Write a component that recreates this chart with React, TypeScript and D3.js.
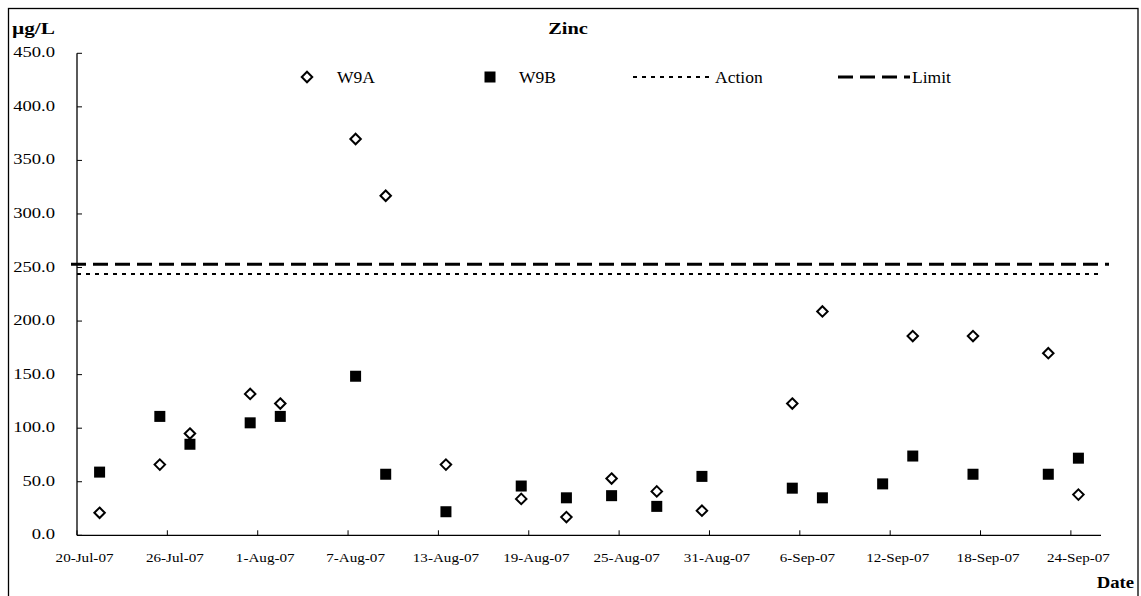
import React from "react";
import * as d3 from "d3";

// ---- data ----
const W9A_DATES = [
  "2007-07-21", "2007-07-25", "2007-07-27", "2007-07-31", "2007-08-02", "2007-08-07",
  "2007-08-09", "2007-08-13", "2007-08-18", "2007-08-21", "2007-08-24", "2007-08-27",
  "2007-08-30", "2007-09-05", "2007-09-07", "2007-09-13", "2007-09-17", "2007-09-22",
  "2007-09-24",
];
const W9A_VALUES = [21, 66, 95, 132, 123, 370, 317, 66, 34, 17, 53, 41, 23, 123, 209, 186, 186, 170, 38];

const W9B_DATES = [
  "2007-07-21", "2007-07-25", "2007-07-27", "2007-07-31", "2007-08-02", "2007-08-07",
  "2007-08-09", "2007-08-13", "2007-08-18", "2007-08-21", "2007-08-24", "2007-08-27",
  "2007-08-30", "2007-09-05", "2007-09-07", "2007-09-11", "2007-09-13", "2007-09-17",
  "2007-09-22", "2007-09-24",
];
const W9B_VALUES = [59, 111, 85, 105, 111, 148.5, 57, 22, 46, 35, 37, 27, 55, 44, 35, 48, 74, 57, 57, 72];

const ACTION_LEVEL = 244;
const LIMIT_LEVEL = 253;

const Y_TICKS = [0, 50, 100, 150, 200, 250, 300, 350, 400, 450];
const X_TICK_DATES = [
  "2007-07-20", "2007-07-26", "2007-08-01", "2007-08-07", "2007-08-13", "2007-08-19",
  "2007-08-25", "2007-08-31", "2007-09-06", "2007-09-12", "2007-09-18", "2007-09-24",
];
const X_TICK_LABELS = [
  "20-Jul-07", "26-Jul-07", "1-Aug-07", "7-Aug-07", "13-Aug-07", "19-Aug-07",
  "25-Aug-07", "31-Aug-07", "6-Sep-07", "12-Sep-07", "18-Sep-07", "24-Sep-07",
];
const X_DOMAIN = ["2007-07-20", "2007-09-26"];

const TITLE = "Zinc";
const Y_TITLE = "\u00b5g/L";
const X_TITLE = "Date";
const LEGEND_LABELS = ["W9A", "W9B", "Action", "Limit"];

const FONT = "'Liberation Serif', 'Times New Roman', serif";

const parse = d3.timeParse("%Y-%m-%d");
const noon = (s: string) => d3.timeHour.offset(parse(s) as Date, 12);

function SText(props: {
  x: number; y: number; sx?: number; size: number; bold?: boolean;
  anchor?: "start" | "middle" | "end"; children: React.ReactNode;
}) {
  const { x, y, sx = 1, size, bold, anchor = "start", children } = props;
  return (
    <text
      transform={`translate(${x},${y}) scale(${sx},1)`}
      fontFamily={FONT}
      fontSize={size}
      fontWeight={bold ? "bold" : "normal"}
      textAnchor={anchor}
      fill="#000"
    >
      {children}
    </text>
  );
}

export default function App() {
  const W = 1141, H = 596;
  const x = d3.scaleTime()
    .domain([parse(X_DOMAIN[0]) as Date, parse(X_DOMAIN[1]) as Date])
    .range([77, 1101]);
  const y = d3.scaleLinear().domain([0, 450]).range([535.3, 53.3]);

  const diamond = d3.symbol().type(d3.symbolDiamond2).size(70)()!;
  const sq = 11;

  const xAxisY = y(0);
  const xLeft = x.range()[0];
  const xRight = x.range()[1];

  return (
    <svg width={W} height={H} style={{ position: "absolute", left: 0, top: 0, background: "#fff" }}>
      <rect x={0} y={0} width={W} height={H} fill="#fff" />
      {/* outer frame */}
      <rect x={8.5} y={8.5} width={1129.5} height={620} fill="none" stroke="#000" strokeWidth={1.3} />

      {/* titles */}
      <SText x={12} y={34} size={17} bold sx={1.25}>{Y_TITLE}</SText>
      <SText x={568} y={34} size={17} bold anchor="middle" sx={1.2}>{TITLE}</SText>
      <SText x={1134} y={588} size={17} bold anchor="end" sx={1.1}>{X_TITLE}</SText>

      {/* reference lines */}
      <line x1={xLeft} x2={xRight + 2} y1={y(ACTION_LEVEL)} y2={y(ACTION_LEVEL)}
        stroke="#000" strokeWidth={2} strokeDasharray="4,5" />
      <line x1={xLeft - 6} x2={xRight + 8} y1={y(LIMIT_LEVEL)} y2={y(LIMIT_LEVEL)}
        stroke="#000" strokeWidth={3} strokeDasharray="15,7" />

      {/* y axis */}
      <line x1={xLeft} x2={xLeft} y1={y(450)} y2={xAxisY} stroke="#000" strokeWidth={1.3} />
      {Y_TICKS.map((t) => (
        <g key={t}>
          <line x1={xLeft} x2={xLeft + 5} y1={y(t)} y2={y(t)} stroke="#000" strokeWidth={1} />
          <SText x={55} y={y(t) + 4} size={15.5} anchor="end" sx={1.2}>{t.toFixed(1)}</SText>
        </g>
      ))}

      {/* x axis */}
      <line x1={xLeft} x2={xRight} y1={xAxisY} y2={xAxisY} stroke="#000" strokeWidth={1.3} />
      {X_TICK_DATES.map((s, i) => {
        const d = parse(s) as Date;
        return (
          <g key={s}>
            <line x1={x(d)} x2={x(d)} y1={xAxisY} y2={xAxisY - 5} stroke="#000" strokeWidth={1} />
            <SText x={x(noon(s))} y={562} size={13.5} anchor="middle" sx={1.12}>{X_TICK_LABELS[i]}</SText>
          </g>
        );
      })}

      {/* W9B squares */}
      {W9B_DATES.map((s, i) => (
        <rect key={"b" + s} x={x(noon(s)) - sq / 2} y={y(W9B_VALUES[i]) - sq / 2}
          width={sq} height={sq} fill="#000" />
      ))}
      {/* W9A diamonds */}
      {W9A_DATES.map((s, i) => (
        <path key={"a" + s} d={diamond} transform={`translate(${x(noon(s))},${y(W9A_VALUES[i])})`}
          fill="#fff" stroke="#000" strokeWidth={2} />
      ))}

      {/* legend */}
      <path d={diamond} transform="translate(307,77)" fill="#fff" stroke="#000" strokeWidth={2} />
      <SText x={337} y={83} size={17.5}>{LEGEND_LABELS[0]}</SText>
      <rect x={490 - sq / 2} y={77 - sq / 2} width={sq} height={sq} fill="#000" />
      <SText x={519} y={83} size={17.5}>{LEGEND_LABELS[1]}</SText>
      <line x1={633} x2={710} y1={77} y2={77} stroke="#000" strokeWidth={2} strokeDasharray="4,5" />
      <SText x={715} y={83} size={17.5}>{LEGEND_LABELS[2]}</SText>
      <line x1={838} x2={910} y1={77} y2={77} stroke="#000" strokeWidth={3} strokeDasharray="15,7" />
      <SText x={912} y={83} size={17.5}>{LEGEND_LABELS[3]}</SText>
    </svg>
  );
}
